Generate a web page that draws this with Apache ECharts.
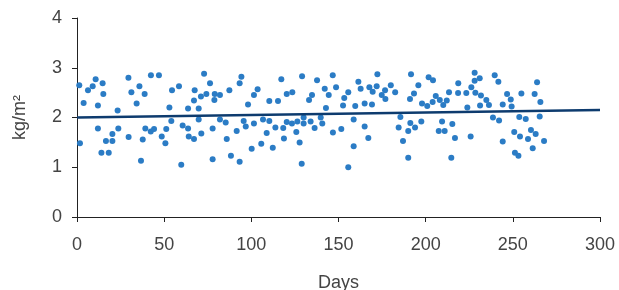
<!DOCTYPE html>
<html><head><meta charset="utf-8">
<script src="https://cdn.jsdelivr.net/npm/echarts@6/dist/echarts.min.js"></script>
<style>html,body{margin:0;padding:0;background:#fff}#c{width:619px;height:290px}</style>
</head><body><div id="c"></div>
<script>
var days = [1.3,6.3,9.0,10.7,14.7,15.1,3.8,12.0,23.3,29.5,31.2,35.8,38.8,34.2,42.4,1.7,12.0,14.0,18.2,16.6,20.3,20.3,23.7,29.6,37.7,39.2,42.3,44.2,36.7,
47.0,72.9,76.3,54.5,58.5,67.5,74.2,71.1,67.1,79.0,82.0,78.8,87.4,53.0,63.7,69.8,54.1,51.2,48.6,50.7,60.6,63.7,64.1,67.1,69.8,71.3,77.8,82.0,85.3,85.9,59.8,77.8,88.3,
94.3,93.3,117.2,129.1,103.6,101.5,98.1,110.3,115.3,120.3,123.5,133.1,134.8,95.6,96.8,91.6,101.5,106.7,110.3,108.8,113.8,118.3,120.3,123.3,126.4,130.0,130.0,134.0,125.8,118.7,127.7,105.7,100.2,112.3,93.3,128.9,
136.3,139.8,140.7,142.8,137.7,146.7,142.1,144.4,148.6,153.3,155.6,152.6,159.6,161.4,162.7,165.0,167.7,169.6,171.9,172.3,169.2,174.8,176.7,176.9,180.0,182.5,146.8,151.6,158.7,165.0,167.1,158.7,155.6,
191.6,195.8,193.3,191.0,197.9,200.9,201.7,204.2,204.0,205.8,208.1,210.1,212.1,213.4,218.6,218.7,223.3,223.9,226.2,228.1,228.1,228.5,185.5,184.5,191.2,190.0,193.9,197.5,187.0,209.4,215.3,207.5,210.9,216.8,225.8,190.0,214.7,
231.0,231.7,231.2,234.8,236.3,239.6,241.7,246.7,248.8,244.2,249.3,254.9,262.5,263.9,265.8,238.6,242.1,253.7,257.4,265.4,250.8,254.1,258.7,260.4,263.1,267.9,244.2,261.4,251.2,253.2];
var values = [2.65,2.55,2.63,2.77,2.69,2.47,2.29,2.24,2.14,2.80,2.51,2.63,2.47,2.28,2.85,1.48,1.78,1.29,1.29,1.53,1.53,1.67,1.78,1.61,1.56,1.78,1.72,1.77,1.13,
2.85,2.88,2.69,2.55,2.63,2.55,2.47,2.42,2.34,2.47,2.45,2.35,2.55,2.20,2.18,2.18,1.93,1.77,1.62,1.48,1.84,1.78,1.62,1.57,1.96,1.68,1.78,1.96,1.90,1.57,1.05,1.16,1.23,
2.82,2.69,2.77,2.83,2.57,2.45,2.26,2.33,2.33,2.47,2.51,2.35,2.45,1.93,1.82,1.73,1.88,1.96,1.93,1.69,1.80,1.79,1.91,1.88,1.92,2.00,1.88,1.92,1.71,1.58,1.50,1.47,1.37,1.39,1.11,1.07,
1.79,2.00,1.88,2.19,2.75,2.85,2.58,2.45,2.61,2.39,2.51,2.24,2.23,2.72,2.58,2.28,2.61,2.52,2.63,2.87,2.26,2.45,2.55,2.37,2.65,2.51,1.70,1.77,1.96,1.82,1.59,1.42,1.00,
2.87,2.65,2.48,2.37,2.28,2.23,2.81,2.75,2.31,2.43,2.35,2.25,2.34,2.51,2.49,2.69,2.49,2.20,2.61,2.90,2.74,2.50,2.01,1.80,1.89,1.73,1.80,1.92,1.53,1.92,1.87,1.73,1.73,1.59,1.62,1.19,1.19,
2.79,2.44,2.24,2.35,2.25,2.85,2.72,2.47,2.36,2.26,2.22,2.48,2.47,2.71,2.31,2.00,1.94,2.01,1.97,2.02,1.71,1.62,1.57,1.75,1.67,1.53,1.52,1.38,1.29,1.23];
var trendDays = [0, 300];
var trendValues = [2.0, 2.15];
var xTicks = [0, 50, 100, 150, 200, 250, 300];
var yTicks = [0, 1, 2, 3, 4];

var pts = days.map(function(d, i){ return [d, values[i]]; });
var trend = trendDays.map(function(d, i){ return [d, trendValues[i]]; });
var font = 'Liberation Sans';
var txt = '#444';
var chart = echarts.init(document.getElementById('c'), null, {renderer: 'canvas'});
chart.setOption({
  animation: false,
  grid: {left: 77, right: 19, top: 18, bottom: 73, containLabel: false, outerBoundsMode: 'none'},
  xAxis: {
    type: 'value', min: xTicks[0], max: xTicks[xTicks.length-1], interval: 50,
    name: 'Days', nameLocation: 'middle', nameGap: 57,
    nameTextStyle: {fontFamily: font, fontSize: 18, color: txt},
    axisLine: {show: true, lineStyle: {color: '#222', width: 1}},
    axisTick: {show: true, inside: false, length: 5, lineStyle: {color: '#222'}},
    axisLabel: {fontFamily: font, fontSize: 18, color: txt, margin: 19},
    splitLine: {show: false}
  },
  yAxis: {
    type: 'value', min: yTicks[0], max: yTicks[yTicks.length-1], interval: 1,
    name: 'kg/m²', nameLocation: 'middle', nameGap: 48, nameRotate: 90,
    nameTextStyle: {fontFamily: font, fontSize: 18, color: txt},
    axisLine: {show: true, lineStyle: {color: '#222', width: 1}},
    axisTick: {show: true, inside: false, length: 5, lineStyle: {color: '#222'}},
    axisLabel: {fontFamily: font, fontSize: 18, color: txt, margin: 15},
    splitLine: {show: false}
  },
  series: [
    {type: 'scatter', data: pts, symbol: 'circle', symbolSize: 6,
     itemStyle: {color: '#2b7cc5', opacity: 1}, z: 2},
    {type: 'line', data: trend, symbol: 'none', smooth: false,
     lineStyle: {color: '#0d3b6e', width: 2.5}, z: 3}
  ]
});
</script></body></html>
